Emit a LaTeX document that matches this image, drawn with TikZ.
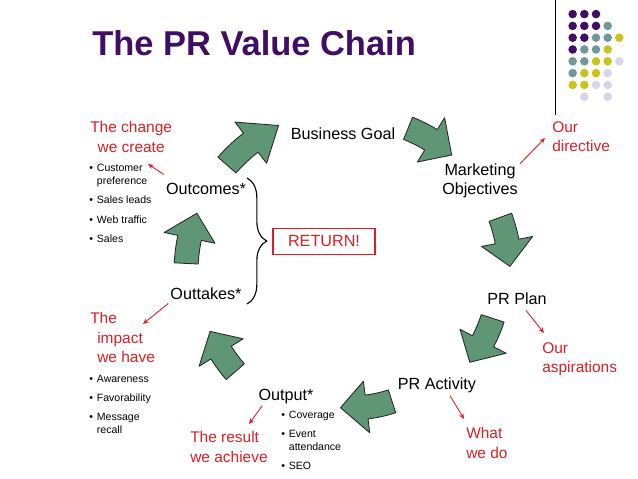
\documentclass[tikz,border=0pt]{standalone}
\usepackage{fontspec}
\setmainfont{Liberation Sans}
\usetikzlibrary{arrows.meta,positioning,decorations.pathreplacing,calc}
\definecolor{prpurple}{RGB}{64,14,100}
\definecolor{prgreen}{RGB}{94,150,118}
\definecolor{prred}{RGB}{218,32,38}
\definecolor{prteal}{RGB}{112,152,152}
\definecolor{prolive}{RGB}{200,196,30}
\definecolor{prlilac}{RGB}{214,214,234}
\tikzset{
  prlabel/.style={
    inner sep=0pt,
    align=center,
    font=\fontsize{11.5}{13.5}\selectfont
  },
  prnote/.style={inner sep=0pt, text=prred, align=left, anchor=north west, font=\fontsize{11}{14}\selectfont},
  prlist/.style={inner sep=0pt, anchor=base west, font=\fontsize{7.5}{9.2}\selectfont},
  prflow/.style={fill=prgreen, draw=black!85, line width=0.6pt, line join=round},
  prpointer/.style={-{Stealth[length=4pt,width=3.4pt]}, line width=0.6pt, draw=prred, fill=prred},
  prreturn/.style={draw=prred, line width=0.8pt, text=prred, minimum width=72.5pt, minimum height=19pt, inner sep=0pt, font=\fontsize{11.5}{13.5}\selectfont}
}
% one curved block arrow of the chain: tail angle, tip angle, radius about (hub)
\newcommand{\flowarrow}[3]{%
  \pgfmathsetmacro{\fmid}{#1+0.5*(#2-#1)}
  \pgfmathsetmacro{\fin}{#3-12}
  \pgfmathsetmacro{\fout}{#3+12}
  \pgfmathsetmacro{\hin}{#3-26}
  \pgfmathsetmacro{\hout}{#3+26}
  \draw[prflow, shift={(hub)}] (#1:\fin) arc[start angle=#1, end angle=\fmid, radius=\fin]
    -- (\fmid:\hin) -- (#2:#3) -- (\fmid:\hout) -- (\fmid:\fout)
    arc[start angle=\fmid, end angle=#1, radius=\fout] -- cycle;
}
\begin{document}
\begin{tikzpicture}[x=0.025cm, y=-0.025cm]
\useasboundingbox (0,0) rectangle (638,479);
\node[anchor=base west, inner sep=0pt, text=prpurple, font=\fontsize{24.5}{29}\selectfont\bfseries] (title) at (92,56) {The PR Value Chain};
% corner decoration
\draw[line width=0.9pt] (555.7,0) -- (555.7,115);
\foreach \c/\r/\col in {1/1/prpurple,2/1/prpurple,3/1/prpurple,1/2/prpurple,2/2/prpurple,3/2/prpurple,1/3/prpurple,2/3/prpurple,1/4/prpurple,
  4/2/prteal,3/3/prteal,4/3/prteal,2/4/prteal,3/4/prteal,1/5/prteal,2/5/prteal,1/6/prteal,
  5/3/prolive,4/4/prolive,3/5/prolive,4/5/prolive,2/6/prolive,3/6/prolive,1/7/prolive,2/7/prolive,
  5/5/prlilac,4/6/prlilac,3/7/prlilac,4/7/prlilac,2/8/prlilac,4/8/prlilac}
  \fill[\col] (561+11.67*\c, 2.3+11.8*\r) circle[radius=4.3];
% the chain
\coordinate (hub) at (350,272);
\flowarrow{221}{244}{163}
\flowarrow{292}{311}{155}
\flowarrow{340}{358}{160}
\flowarrow{18}{37}{150}
\flowarrow{72}{94}{136}
\flowarrow{139}{157}{152}
\flowarrow{183}{201}{164}
\node[prlabel, anchor=base] (goal) at (343,139) {Business Goal};
\node[prlabel] (objectives) at (480,181) {Marketing\\Objectives};
\node[prlabel, anchor=base] (plan) at (517,304) {PR Plan};
\node[prlabel, anchor=base] (activity) at (437,389) {PR Activity};
\node[prlabel, anchor=base] (output) at (286,400) {Output*};
\node[prlabel, anchor=base] (outtakes) at (206,299) {Outtakes*};
\node[prlabel, anchor=base] (outcomes) at (206,194) {Outcomes*};
% what each step means
\node[prnote, align=center] (change) at (90,121) {The change\\we create};
\node[prnote] (directive) at (552,121) {Our\\directive};
\node[prnote] (aspirations) at (542,342) {Our\\aspirations};
\node[prnote] (wedo) at (466,427) {What\\we do};
\node[prnote] (result) at (190,431) {The result\\we achieve};
\node[prnote] (impact) at (90,312) {The\\\hspace*{5pt}impact\\\hspace*{5pt}we have};
\node[prlist] (outcomelist) at (89,171.5) {\begin{tabular}[t]{@{}l@{\hspace{2.8pt}}l@{}}
  \textbullet & Customer\\ & preference\\[4.6pt]
  \textbullet & Sales leads\\[4.6pt]
  \textbullet & Web traffic\\[4.6pt]
  \textbullet & Sales
\end{tabular}};
\node[prlist] (outtakelist) at (89,382.5) {\begin{tabular}[t]{@{}l@{\hspace{2.8pt}}l@{}}
  \textbullet & Awareness\\[4.3pt]
  \textbullet & Favorability\\[4.3pt]
  \textbullet & Message\\ & recall
\end{tabular}};
\node[prlist] (outputlist) at (281,418.5) {\begin{tabular}[t]{@{}l@{\hspace{2.8pt}}l@{}}
  \textbullet & Coverage\\[4.3pt]
  \textbullet & Event\\ & attendance\\[4.3pt]
  \textbullet & SEO
\end{tabular}};
\node[prreturn] (return) at (324,241.5) {RETURN!};
\draw[decorate, decoration={brace, amplitude=14pt}, line width=0.8pt] (247,178) -- (247,304);
% red pointers
\coordinate (changetip) at (148,164);
\coordinate (directivetip) at (545,138);
\coordinate (aspirationtip) at (544,333);
\coordinate (wedotip) at (464,419);
\coordinate (resulttip) at (249,424);
\coordinate (impacttip) at (143,324);
\draw[prpointer] ([shift={(-2,-8)}]outcomes.north west) -- (changetip);
\draw[prpointer] ([shift={(2,0)}]objectives.north east) -- (directivetip);
\draw[prpointer] ([shift={(9,6)}]plan.south) -- (aspirationtip);
\draw[prpointer] ([shift={(13,3)}]activity.south) -- (wedotip);
\draw[prpointer] ([shift={(4,2)}]output.south west) -- (resulttip);
\draw[prpointer] ([shift={(-2,4)}]outtakes.south west) -- (impacttip);
\end{tikzpicture}
\end{document}
